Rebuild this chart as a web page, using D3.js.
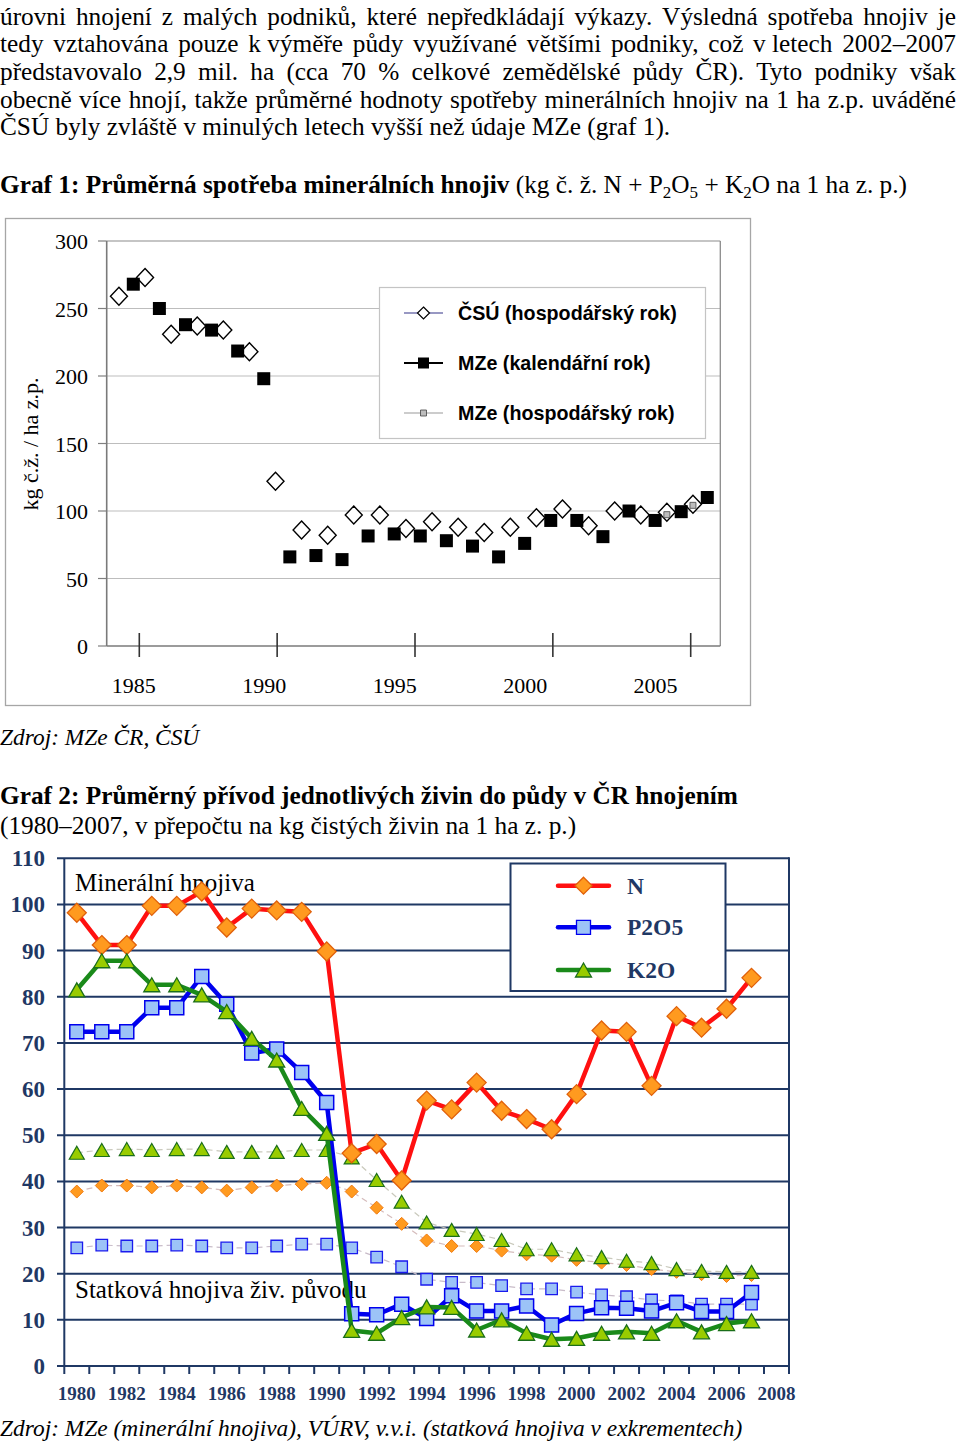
<!DOCTYPE html>
<html><head><meta charset="utf-8">
<script src="https://cdn.jsdelivr.net/npm/d3@7"></script>
<style>body{margin:0;background:#fff}svg{display:block}</style>
</head><body>
<svg id="c" width="960" height="1442"></svg>
<script>
// ================= DATA =================
const paraLines = [
  "úrovni hnojení z malých podniků, které nepředkládají výkazy. Výsledná spotřeba hnojiv je",
  "tedy vztahována pouze k\u00A0výměře půdy využívané většími podniky, což v\u00A0letech 2002–2007",
  "představovalo 2,9 mil. ha (cca 70 % celkové zemědělské půdy ČR). Tyto podniky však",
  "obecně více hnojí, takže průměrné hodnoty spotřeby minerálních hnojiv na 1 ha z.p. uváděné"
];
const paraLast = "ČSÚ byly zvláště v minulých letech vyšší než údaje MZe (graf 1).";

const g1Years = d3.range(1985, 2008);
const csuValues = [259, 273, 231, 237, 234, 218, 122, 86, 82, 97, 97, 87, 92, 88, 84, 88, 95, 101.5, 89, 100, 97, 99, 105];
const mzeCalValues = [268, 250, 238, 234, 218.5, 198, 66, 67, 64, 81.5, 83, 81.5, 78, 74, 66, 76, 93, 93, 81, 100, 93, 99.5, 110];
const mzeHospYears = [2006, 2007];
const mzeHospValues = [97.3, 104.2];
const g1YTicks = [0, 50, 100, 150, 200, 250, 300];
const g1XLabels = [1985, 1990, 1995, 2000, 2005];
const g1LegendLabels = ["ČSÚ (hospodářský rok)", "MZe (kalendářní rok)", "MZe (hospodářský rok)"];

const g2Years = d3.range(1980, 2008);
const minN = [98.2, 91.2, 91.2, 99.7, 99.7, 102.8, 95, 99.1, 98.7, 98.4, 89.8, 46.1, 48.1, 40.2, 57.5, 55.6, 61.4, 55.3, 53.5, 51.3, 58.9, 72.7, 72.4, 60.7, 75.8, 73.3, 77.4, 84.1];
const minP = [72.4, 72.4, 72.4, 77.6, 77.6, 84.4, 78.4, 67.8, 68.7, 63.6, 57.1, 11.3, 11.1, 13.4, 10.3, 15.2, 11.9, 11.9, 13, 8.9, 11.4, 12.6, 12.5, 11.9, 13.7, 11.8, 11.8, 15.9];
const minK = [81.5, 87.8, 87.8, 82.6, 82.6, 80.4, 76.8, 71.0, 66.3, 55.8, 50.4, 7.7, 7.1, 10.5, 12.8, 12.7, 7.8, 10, 7.1, 5.8, 6, 7.1, 7.4, 7.1, 9.8, 7.4, 9.2, 9.8];
const manN = [37.8, 39.1, 39.1, 38.7, 39.1, 38.7, 38.0, 38.7, 39.1, 39.4, 39.7, 37.8, 34.3, 30.8, 27.2, 26.0, 26.0, 25.0, 24.2, 23.9, 23.0, 22.4, 21.9, 21.0, 20.4, 19.9, 19.5, 19.7];
const manP = [25.6, 26.2, 26.0, 26.0, 26.2, 26.0, 25.6, 25.6, 26.0, 26.4, 26.4, 25.6, 23.6, 21.5, 18.8, 18.1, 18.1, 17.4, 16.7, 16.7, 16.0, 15.4, 15.0, 14.3, 14.1, 13.4, 13.4, 13.4];
const manK = [46.2, 46.8, 47.0, 46.8, 47.0, 47.0, 46.4, 46.4, 46.4, 46.8, 46.8, 45.2, 40.3, 35.6, 31.1, 29.5, 28.6, 27.3, 25.3, 25.3, 24.2, 23.6, 22.8, 22.3, 21.0, 20.6, 20.4, 20.4];
const g2Categories = d3.range(1980, 2009);
const g2YTicks = d3.range(0, 111, 10);
const g2XLabels = d3.range(1980, 2009, 2);
const g2LegendLabels = ["N", "P2O5", "K2O"];

// ================= DRAW =================
const svg = d3.select('#c');
const serif = "'Liberation Serif','Times New Roman',serif";
const sans = "'Liberation Sans',Arial,sans-serif";
const navy = "#1f3864";

// ---- paragraph ----
const paraSize = 25.3;
const italicSize = 23.4;
const baselines = [24.5, 52.2, 79.9, 107.6];
function justify(line, y, width) {
  const words = line.split(' ');
  const g = svg.append('g');
  const nodes = words.map(w => g.append('text').attr('y', y)
    .attr('font-family', serif).attr('font-size', paraSize).text(w));
  const ws = nodes.map(n => n.node().getComputedTextLength());
  const gap = (width - d3.sum(ws)) / (words.length - 1);
  let x = 0;
  nodes.forEach((n, i) => { n.attr('x', x); x += ws[i] + gap; });
}
paraLines.forEach((l, i) => justify(l, baselines[i], 956));
svg.append('text').attr('x', 0).attr('y', 135.3).attr('font-family', serif)
  .attr('font-size', paraSize).text(paraLast);

// ---- Graph 1 title ----
{
  const t = svg.append('text').attr('x', 0).attr('y', 193).attr('font-family', serif).attr('font-size', paraSize);
  t.append('tspan').attr('font-weight', 'bold').text('Graf 1: Průměrná spotřeba minerálních hnojiv');
  t.append('tspan').text(' (kg č. ž. N + P');
  t.append('tspan').attr('font-size', 17).attr('dy', 5).text('2');
  t.append('tspan').attr('dy', -5).text('O');
  t.append('tspan').attr('font-size', 17).attr('dy', 5).text('5');
  t.append('tspan').attr('dy', -5).text(' + K');
  t.append('tspan').attr('font-size', 17).attr('dy', 5).text('2');
  t.append('tspan').attr('dy', -5).text('O na 1 ha z. p.)');
}

// ---- Graph 1 ----
const y1 = d3.scaleLinear().domain([0, 300]).range([646, 241]);
const x1 = d3.scaleLinear().domain([1985, 2007]).range([133.3, 707.3]);
const hospShift = 0.55; // economic year plotted half a year earlier
const tickScale = d3.scaleLinear().domain([0, 4]).range([139.3, 690.7]);
const p1L = 106.7, p1R = 720.3;

svg.append('rect').attr('x', 5.5).attr('y', 218.5).attr('width', 745).attr('height', 487)
  .attr('fill', 'none').attr('stroke', '#a6a6a6').attr('stroke-width', 1.3);

const g1 = svg.append('g');
g1.selectAll('line.grid').data(g1YTicks.filter(d => d > 0)).join('line')
  .attr('x1', p1L).attr('x2', p1R).attr('y1', d => y1(d)).attr('y2', d => y1(d))
  .attr('stroke', d => d === 300 ? '#8c8c8c' : '#bdbdbd').attr('stroke-width', 1.2);
g1.selectAll('line.ytick').data(g1YTicks).join('line')
  .attr('x1', 98).attr('x2', p1L).attr('y1', d => y1(d)).attr('y2', d => y1(d))
  .attr('stroke', '#808080').attr('stroke-width', 1.2);
g1.append('line').attr('x1', p1R).attr('x2', p1R).attr('y1', y1(300)).attr('y2', y1(0))
  .attr('stroke', '#8c8c8c').attr('stroke-width', 1.3);
g1.append('line').attr('x1', p1L).attr('x2', p1L).attr('y1', y1(300)).attr('y2', y1(0))
  .attr('stroke', '#7a7a7a').attr('stroke-width', 1.6);
g1.append('line').attr('x1', p1L).attr('x2', p1R).attr('y1', y1(0)).attr('y2', y1(0))
  .attr('stroke', '#7a7a7a').attr('stroke-width', 1.6);
g1.selectAll('line.xtick').data(d3.range(5)).join('line')
  .attr('x1', d => tickScale(d)).attr('x2', d => tickScale(d)).attr('y1', 633).attr('y2', 657)
  .attr('stroke', '#333').attr('stroke-width', 1.6);

g1.selectAll('text.ylab').data(g1YTicks).join('text')
  .attr('x', 88).attr('y', d => y1(d) + 8).attr('text-anchor', 'end')
  .attr('font-family', serif).attr('font-size', 22).text(d => d);
g1.selectAll('text.xlab').data(g1XLabels).join('text')
  .attr('x', d => x1(d) + 0.5).attr('y', 693).attr('text-anchor', 'middle')
  .attr('font-family', serif).attr('font-size', 22).text(d => d);
g1.append('text').attr('transform', 'translate(38,444) rotate(-90)').attr('text-anchor', 'middle')
  .attr('font-family', serif).attr('font-size', 22).text('kg č.ž. / ha z.p.');

const diamond = (rx, ry) => `M0,${-ry}L${rx},0L0,${ry}L${-rx},0Z`;
const square = s => `M${-s/2},${-s/2}h${s}v${s}h${-s}Z`;
const triangle = (w, h) => `M0,${-h/2}L${w/2},${h/2}L${-w/2},${h/2}Z`;

g1.selectAll('path.csu').data(g1Years).join('path')
  .attr('d', diamond(8.5, 9))
  .attr('transform', (d, i) => `translate(${x1(d - hospShift)},${y1(csuValues[i])})`)
  .attr('fill', '#fff').attr('stroke', '#000').attr('stroke-width', 1.4);
g1.selectAll('path.mze').data(g1Years).join('path')
  .attr('d', square(13))
  .attr('transform', (d, i) => `translate(${x1(d)},${y1(mzeCalValues[i])})`)
  .attr('fill', '#000');
g1.selectAll('path.mzeh').data(mzeHospYears).join('path')
  .attr('d', square(6))
  .attr('transform', (d, i) => `translate(${x1(d - hospShift)},${y1(mzeHospValues[i])})`)
  .attr('fill', '#bdbdbd').attr('stroke', '#444').attr('stroke-width', 0.8);

// legend 1
const lg1 = svg.append('g');
lg1.append('rect').attr('x', 379.5).attr('y', 287.5).attr('width', 326).attr('height', 151)
  .attr('fill', '#fff').attr('stroke', '#c4c4c4').attr('stroke-width', 1.2);
const lg1Y = [313, 363, 413];
const lg1Style = [
  {stroke: '#333388', sw: 1.2, d: diamond(6, 6), fill: '#fff', ms: '#000', msw: 1.2},
  {stroke: '#000', sw: 2.2, d: square(11), fill: '#000', ms: '#000', msw: 0},
  {stroke: '#999', sw: 1, d: square(6), fill: '#bdbdbd', ms: '#444', msw: 0.8}
];
g1LegendLabels.forEach((lab, i) => {
  const s = lg1Style[i];
  lg1.append('line').attr('x1', 404).attr('x2', 443).attr('y1', lg1Y[i]).attr('y2', lg1Y[i])
    .attr('stroke', s.stroke).attr('stroke-width', s.sw);
  lg1.append('path').attr('d', s.d).attr('transform', `translate(423.5,${lg1Y[i]})`)
    .attr('fill', s.fill).attr('stroke', s.ms).attr('stroke-width', s.msw);
  lg1.append('text').attr('x', 458).attr('y', lg1Y[i] + 7).attr('font-family', sans)
    .attr('font-weight', 'bold').attr('font-size', 19.7).text(lab);
});

svg.append('text').attr('x', 0).attr('y', 745).attr('font-family', serif).attr('font-style', 'italic')
  .attr('font-size', italicSize).text('Zdroj: MZe ČR, ČSÚ');

// ---- Graph 2 title ----
svg.append('text').attr('x', 0).attr('y', 804).attr('font-family', serif).attr('font-weight', 'bold')
  .attr('font-size', paraSize).text('Graf 2: Průměrný přívod jednotlivých živin do půdy v ČR hnojením');
svg.append('text').attr('x', 0).attr('y', 834).attr('font-family', serif)
  .attr('font-size', paraSize).text('(1980–2007, v přepočtu na kg čistých živin na 1 ha z. p.)');

// ---- Graph 2 ----
const y2 = d3.scaleLinear().domain([0, 110]).range([1366, 858.3]);
const x2 = d3.scaleBand().domain(g2Categories).range([64.3, 789]);
const cx = d => x2(d) + x2.bandwidth() / 2;
const g2 = svg.append('g');

g2.selectAll('line.grid').data(g2YTicks).join('line')
  .attr('x1', 57).attr('x2', 789).attr('y1', d => y2(d)).attr('y2', d => y2(d))
  .attr('stroke', navy).attr('stroke-width', 2);
g2.append('line').attr('x1', 789).attr('x2', 789).attr('y1', y2(110) - 1).attr('y2', y2(0))
  .attr('stroke', navy).attr('stroke-width', 2);
g2.append('line').attr('x1', 64.3).attr('x2', 64.3).attr('y1', y2(110)).attr('y2', y2(0) + 1)
  .attr('stroke', navy).attr('stroke-width', 2);
g2.selectAll('line.xtick').data(g2Categories.concat([2009])).join('line')
  .attr('x1', d => d === 2009 ? 789 : x2(d)).attr('x2', d => d === 2009 ? 789 : x2(d))
  .attr('y1', y2(0)).attr('y2', y2(0) + 8).attr('stroke', navy).attr('stroke-width', 2);

g2.selectAll('text.ylab').data(g2YTicks).join('text')
  .attr('x', 45).attr('y', d => y2(d) + 8).attr('text-anchor', 'end')
  .attr('font-family', serif).attr('font-weight', 'bold').attr('font-size', 23).attr('fill', navy)
  .text(d => d);
g2.selectAll('text.xlab').data(g2XLabels).join('text')
  .attr('x', d => cx(d)).attr('y', 1400).attr('text-anchor', 'middle')
  .attr('font-family', serif).attr('font-weight', 'bold').attr('font-size', 19).attr('fill', navy)
  .text(d => d);

g2.append('text').attr('x', 75).attr('y', 891).attr('font-family', serif).attr('font-size', 25)
  .text('Minerální hnojiva');
g2.append('text').attr('x', 75).attr('y', 1298).attr('font-family', serif).attr('font-size', 25)
  .text('Statková hnojiva živ. původu');

const orangeFill = '#ff9a1f', orangeStroke = '#e0600a';
const blueFill = '#9cc3f7', blueStroke = '#0000ee';
const greenFill = '#99cc00', greenStroke = '#1a6e1a';

function series(vals, opt) {
  const line = d3.line().x((d, i) => cx(g2Years[i])).y(d => y2(d));
  g2.append('path').datum(vals).attr('d', line).attr('fill', 'none')
    .attr('stroke', opt.line).attr('stroke-width', opt.lw)
    .attr('stroke-dasharray', opt.dash || null).attr('stroke-linejoin', 'round');
  g2.append('g').selectAll('path').data(vals).join('path')
    .attr('d', opt.marker)
    .attr('transform', (d, i) => `translate(${cx(g2Years[i])},${y2(d)})`)
    .attr('fill', opt.fill).attr('stroke', opt.ms).attr('stroke-width', opt.msw);
}
// manure (dashed)
series(manN, {line: '#d5bcbc', lw: 1.2, dash: '6,4', marker: diamond(6.5, 6.5), fill: orangeFill, ms: '#f07a10', msw: 1});
series(manP, {line: '#c9bcc9', lw: 1.2, dash: '6,4', marker: square(11.5), fill: blueFill, ms: '#1a1aee', msw: 1.3});
series(manK, {line: '#c9c9bc', lw: 1.2, dash: '6,4', marker: triangle(15, 13), fill: greenFill, ms: greenStroke, msw: 1.2});
// mineral
series(minN, {line: '#ff1010', lw: 4.5, marker: diamond(9.5, 9.5), fill: orangeFill, ms: orangeStroke, msw: 1.3});
series(minP, {line: '#0000ee', lw: 4.5, marker: square(14), fill: blueFill, ms: blueStroke, msw: 1.5});
series(minK, {line: '#1a8a1a', lw: 4.5, marker: triangle(16, 14), fill: greenFill, ms: greenStroke, msw: 1.3});

// legend 2
const lg2 = svg.append('g');
lg2.append('rect').attr('x', 510.5).attr('y', 863.5).attr('width', 215).attr('height', 127.5)
  .attr('fill', '#fff').attr('stroke', navy).attr('stroke-width', 2);
const lg2Y = [885.7, 927.3, 970];
const lg2Style = [
  {line: '#ff1010', d: diamond(8.5, 8.5), fill: orangeFill, ms: orangeStroke},
  {line: '#0000ee', d: square(14), fill: blueFill, ms: blueStroke},
  {line: '#1a8a1a', d: triangle(16, 14), fill: greenFill, ms: greenStroke}
];
g2LegendLabels.forEach((lab, i) => {
  const s = lg2Style[i];
  lg2.append('line').attr('x1', 558).attr('x2', 609).attr('y1', lg2Y[i]).attr('y2', lg2Y[i])
    .attr('stroke', s.line).attr('stroke-width', 4.5).attr('stroke-linecap', 'round');
  lg2.append('path').attr('d', s.d).attr('transform', `translate(583.5,${lg2Y[i]})`)
    .attr('fill', s.fill).attr('stroke', s.ms).attr('stroke-width', 1.3);
  lg2.append('text').attr('x', 627).attr('y', lg2Y[i] + 8).attr('font-family', serif)
    .attr('font-weight', 'bold').attr('font-size', 23.5).attr('fill', navy).text(lab);
});

svg.append('text').attr('x', 0).attr('y', 1436).attr('font-family', serif).attr('font-style', 'italic')
  .attr('font-size', italicSize)
  .text('Zdroj: MZe (minerální hnojiva), VÚRV, v.v.i. (statková hnojiva v exkrementech)');
</script>
</body></html>
